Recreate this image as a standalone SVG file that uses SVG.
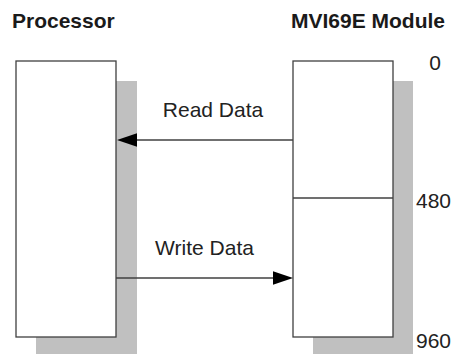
<svg xmlns="http://www.w3.org/2000/svg" width="454" height="354" viewBox="0 0 454 354">
<style>
.shadow{fill:#c0c0c0;stroke:none}
.box{fill:#ffffff;stroke:#404040;stroke-width:1.3}
.line{stroke:#404040;stroke-width:1.3;fill:none}
.title{font-family:"Liberation Sans",Arial,sans-serif;font-weight:bold;font-size:21px;fill:#1a1a1a}
.lbl{font-family:"Liberation Sans",Arial,sans-serif;font-size:21px;fill:#222222}
.head{fill:#000000}
</style>
<rect width="454" height="354" fill="#ffffff"/>
<g id="processor">
<rect class="shadow" x="36" y="81" width="101" height="273"/>
<rect class="box" x="16" y="61" width="100" height="276"/>
<text class="title" x="12" y="28">Processor</text>
</g>
<g id="module">
<rect class="shadow" x="313" y="81" width="100" height="273"/>
<rect class="box" x="293" y="61" width="100" height="276"/>
<line class="line" x1="293" y1="198" x2="393" y2="198"/>
<text class="title" x="291" y="28">MVI69E Module</text>
<text class="lbl" x="435" y="70" text-anchor="middle">0</text>
<text class="lbl" x="416" y="208">480</text>
<text class="lbl" x="416" y="348">960</text>
</g>
<g id="connectors">
<line class="line" x1="293" y1="140" x2="135" y2="140"/>
<polygon class="head" points="117,140 137,133.3 137,146.7"/>
<text class="lbl" x="213" y="117" text-anchor="middle">Read Data</text>
<line class="line" x1="116" y1="278" x2="275" y2="278"/>
<polygon class="head" points="293,278 273,271.3 273,284.7"/>
<text class="lbl" x="204.5" y="255" text-anchor="middle">Write Data</text>
</g>
</svg>
